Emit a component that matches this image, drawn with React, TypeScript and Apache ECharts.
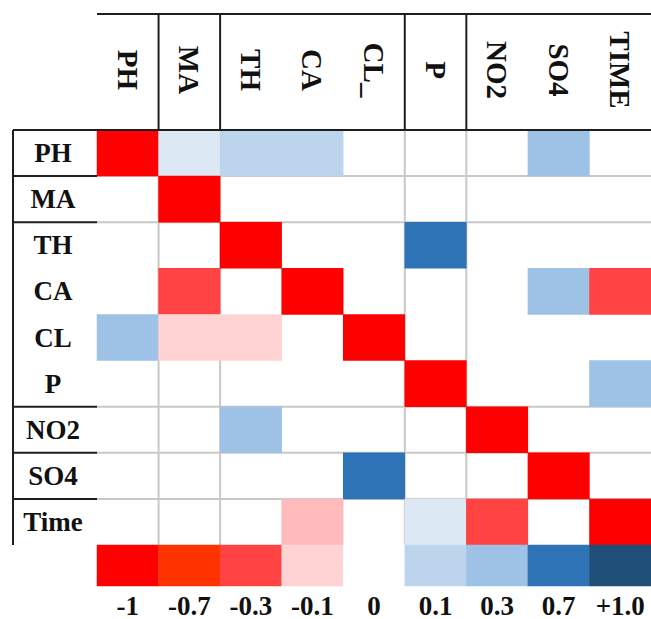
import React, { useEffect, useRef } from "react";
import * as echarts from "echarts";

const rowNames = ["PH", "MA", "TH", "CA", "CL", "P", "NO2", "SO4", "Time"];
const colNames = ["PH", "MA", "TH", "CA", "CL_", "P", "NO2", "SO4", "TIME"];

// cell values (null = blank cell)
const rowPH = [-1, 0.05, 0.1, 0.1, null, null, null, 0.3, null];
const rowMA = [null, -1, null, null, null, null, null, null, null];
const rowTH = [null, null, -1, null, null, 0.7, null, null, null];
const rowCA = [null, -0.3, null, -1, null, null, null, 0.3, -0.3];
const rowCL = [0.3, -0.1, -0.1, null, -1, null, null, null, null];
const rowP = [null, null, null, null, null, -1, null, null, 0.3];
const rowNO2 = [null, null, 0.3, null, null, null, -1, null, null];
const rowSO4 = [null, null, null, null, 0.7, null, null, -1, null];
const rowTime = [null, null, null, -0.15, null, 0.05, -0.3, null, -1];

const legendLabels = ["-1", "-0.7", "-0.3", "-0.1", "0", "0.1", "0.3", "0.7", "+1.0"];
const legendValues = [-1, -0.7, -0.3, -0.1, 0, 0.1, 0.3, 0.7, 1];

const pieceValues = [-1, -0.7, -0.3, -0.15, -0.1, 0, 0.05, 0.1, 0.3, 0.7, 1];
const pieceColors = [
  "#FF0000", "#FF3300", "#FF4343", "#FFBBBB", "#FFD3D3", "#FFFFFF",
  "#DDE8F5", "#BDD5EC", "#9DC2E5", "#2E73B5", "#1F4E79",
];

const matrix = [rowPH, rowMA, rowTH, rowCA, rowCL, rowP, rowNO2, rowSO4, rowTime];

const FONT = "'Liberation Serif', 'Times New Roman', serif";

export default function App() {
  const ref = useRef<HTMLDivElement>(null);
  useEffect(() => {
    if (!ref.current) return;
    const chart = echarts.init(ref.current, undefined, { renderer: "svg" });

    const gL = 97, gT = 130, gW = 554, gH = 415;
    const lT = 545, lH = 46;
    const cw = gW / 9, ch = gH / 9;

    const data: any[] = [];
    matrix.forEach((row, r) =>
      row.forEach((v, c) => {
        if (v !== null) data.push([c, r, v]);
      })
    );
    const legData = legendValues.map((v, i) => [i, 0, v]);

    const colBounds = [1, 2, 5, 6];
    const rowBounds = [1, 2, 6, 7, 8];
    const black = { stroke: "#1e1e1e", lineWidth: 2 };
    const gray = { stroke: "#C8C8C8", lineWidth: 2 };
    const lines: any[] = [];
    const L = (x1: number, y1: number, x2: number, y2: number, style: any, z: number) =>
      lines.push({ type: "line", z, silent: true, shape: { x1, y1, x2, y2 }, style });

    colBounds.forEach((b) => {
      const x = gL + b * cw;
      L(x, gT, x, lT, gray, 0);
      L(x, 14, x, gT, black, 100);
    });
    rowBounds.forEach((b) => {
      const y = gT + b * ch;
      L(gL, y, 651, y, gray, 0);
      L(13, y, gL, y, black, 100);
    });
    L(gL, 14, 651, 14, black, 100);
    L(13, gT, 651, gT, black, 100);
    L(13, gT, 13, lT, black, 100);

    chart.setOption({
      animation: false,
      backgroundColor: "#ffffff",
      grid: [
        { left: gL, top: gT, width: gW, height: gH },
        { left: gL, top: lT, width: gW, height: lH },
      ],
      xAxis: [
        {
          type: "category",
          gridIndex: 0,
          position: "top",
          data: colNames,
          axisLine: { show: false },
          axisTick: { show: false },
          splitLine: { show: false },
          axisLabel: {
            rotate: 90,
            margin: 60,
            align: "center",
            verticalAlign: "middle",
            fontFamily: FONT,
            fontWeight: "bold",
            fontSize: 29,
            color: "#111",
            interval: 0,
          },
        },
        {
          type: "category",
          gridIndex: 1,
          position: "bottom",
          data: legendLabels,
          axisLine: { show: false },
          axisTick: { show: false },
          splitLine: { show: false },
          axisLabel: {
            margin: 6,
            fontFamily: FONT,
            fontWeight: "bold",
            fontSize: 27,
            color: "#111",
            interval: 0,
          },
        },
      ],
      yAxis: [
        {
          type: "category",
          gridIndex: 0,
          inverse: true,
          data: rowNames,
          axisLine: { show: false },
          axisTick: { show: false },
          splitLine: { show: false },
          axisLabel: {
            margin: 44,
            align: "center",
            verticalAlign: "middle",
            fontFamily: FONT,
            fontWeight: "bold",
            fontSize: 27,
            color: "#111",
            interval: 0,
          },
        },
        {
          type: "category",
          gridIndex: 1,
          data: [""],
          axisLine: { show: false },
          axisTick: { show: false },
          axisLabel: { show: false },
          splitLine: { show: false },
        },
      ],
      visualMap: {
        type: "piecewise",
        show: false,
        dimension: 2,
        seriesIndex: [0, 1],
        pieces: pieceValues.map((v, i) => ({ value: v, color: pieceColors[i] })),
      },
      graphic: lines,
      series: [
        {
          type: "heatmap",
          xAxisIndex: 0,
          yAxisIndex: 0,
          data,
          itemStyle: { borderWidth: 0 },
          emphasis: { disabled: true },
          label: { show: false },
        },
        {
          type: "heatmap",
          xAxisIndex: 1,
          yAxisIndex: 1,
          data: legData,
          itemStyle: { borderWidth: 0 },
          emphasis: { disabled: true },
          label: { show: false },
        },
      ],
    });
    return () => chart.dispose();
  }, []);
  return (
    <div
      ref={ref}
      style={{ position: "fixed", left: 0, top: 0, width: 651, height: 619, background: "#fff" }}
    />
  );
}
